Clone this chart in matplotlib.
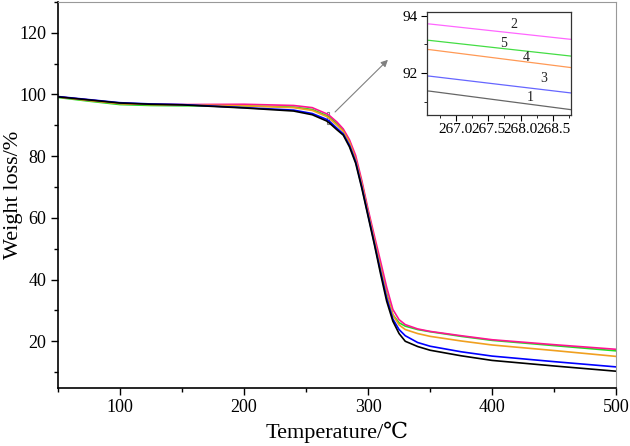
import matplotlib
matplotlib.use("Agg")
import matplotlib.pyplot as plt
from matplotlib.patches import Rectangle
from matplotlib.ticker import MultipleLocator

plt.rcParams['font.family'] = ['Liberation Serif', 'DejaVu Serif']

# temperature grid (℃)
temp = [50, 75, 100, 125, 150, 200, 240, 255, 266.6, 268.8, 275, 280, 285, 290,
        295, 300, 305, 310, 315, 320, 325, 330, 340, 350, 375, 400, 450, 500]

# weight (%) for samples 1..5
w1 = [99.2, 98.2, 97.2, 96.8, 96.6, 95.6, 94.6, 93.4, 91.38, 90.73, 88.5, 86.8, 83.0, 77.7,
      69.5, 60.5, 51.5, 42.0, 33.0, 26.5, 22.5, 20.0, 18.3, 17.1, 15.3, 13.8, 12.0, 10.3]
w2 = [99.2, 98.2, 97.1, 96.8, 96.7, 96.8, 96.4, 95.7, 93.71, 93.17, 91.0, 88.8, 85.3, 80.2,
      72.0, 62.8, 54.3, 46.0, 37.5, 30.3, 27.0, 25.4, 24.0, 23.2, 21.8, 20.5, 18.9, 17.4]
w3 = [99.3, 98.3, 97.3, 96.9, 96.7, 95.7, 94.9, 93.8, 91.90, 91.31, 89.0, 87.2, 83.5, 78.2,
      70.0, 61.0, 52.0, 42.8, 34.0, 27.2, 23.8, 21.8, 19.6, 18.4, 16.6, 15.2, 13.4, 11.7]
w4 = [99.2, 98.0, 97.0, 96.7, 96.6, 96.3, 95.7, 94.8, 92.82, 92.19, 90.0, 88.0, 84.5, 79.0,
      71.0, 61.8, 53.0, 44.0, 35.0, 28.5, 25.3, 23.8, 22.5, 21.6, 20.1, 18.8, 17.0, 15.1]
w5 = [99.0, 97.8, 96.7, 96.4, 96.3, 96.3, 95.9, 95.1, 93.14, 92.59, 90.5, 88.3, 84.8, 79.3,
      71.3, 62.0, 53.3, 44.5, 35.5, 28.6, 26.0, 24.9, 23.8, 23.1, 21.6, 20.3, 18.6, 16.9]

series = [w1, w2, w3, w4, w5]
labels = ["1", "2", "3", "4", "5"]
main_colors = ["#000000", "#ff1493", "#0000ff", "#f0a020", "#22dd22"]
inset_colors = ["#666666", "#ff66ff", "#6666ff", "#ff9955", "#44dd44"]
# label positions inside the inset (data coords)
label_x = [268.14, 267.90, 268.35, 268.09, 267.73]
label_y = [91.17, 93.68, 91.82, 92.56, 93.04]

fig = plt.figure(figsize=(6.3, 4.46), dpi=100)
ax = fig.add_axes([0.092, 0.131, 0.886, 0.865])

# draw in order so black/blue lie on top as in the figure
for i in [4, 1, 3, 2, 0]:
    ax.plot(temp, series[i], color=main_colors[i], lw=1.2)

ax.set_xlim(50, 500)
ax.set_ylim(5, 130)
ax.xaxis.set_major_locator(MultipleLocator(100))
ax.xaxis.set_minor_locator(MultipleLocator(50))
ax.yaxis.set_major_locator(MultipleLocator(20))
ax.yaxis.set_minor_locator(MultipleLocator(10))
ax.tick_params(which='both', direction='out', top=False, right=False, labelsize=13)
ax.tick_params(which='major', length=5, width=1)
ax.tick_params(which='minor', length=3, width=1)
for s in ['top', 'right']:
    ax.spines[s].set_color('#999999')
    ax.spines[s].set_linewidth(0.8)
for s in ['left', 'bottom']:
    ax.spines[s].set_linewidth(1.2)
ax.set_xlabel("Temperature/℃", fontsize=16)
ax.set_ylabel("Weight loss/%", fontsize=16, va='center')
ax.yaxis.set_label_coords(-0.08, 0.5)

# zoom marker and arrow
ix0, ix1 = 266.55, 268.78
iy0, iy1 = 90.55, 94.14
ax.add_patch(Rectangle((ix0, iy0), ix1 - ix0, iy1 - iy0, fill=False,
                       edgecolor='#808080', lw=0.8))
ax.annotate("", xy=(316, 111.2), xytext=(273.4, 94.3),
            arrowprops=dict(arrowstyle='-|>', color='#808080', lw=0.8,
                            mutation_scale=10, shrinkA=0, shrinkB=0))

# inset
axi = fig.add_axes([0.677, 0.742, 0.230, 0.232])
for i in range(5):
    axi.plot(temp, series[i], color=inset_colors[i], lw=0.9)
    axi.text(label_x[i], label_y[i], labels[i], fontsize=10,
             ha='center', va='center', color='#222222')
axi.set_xlim(ix0, ix1)
axi.set_ylim(iy0, iy1)
axi.xaxis.set_major_locator(MultipleLocator(0.5))
axi.xaxis.set_minor_locator(MultipleLocator(0.25))
axi.yaxis.set_major_locator(MultipleLocator(2))
axi.yaxis.set_minor_locator(MultipleLocator(1))
axi.xaxis.set_major_formatter(plt.FormatStrFormatter('%.1f'))
axi.yaxis.set_major_formatter(plt.FormatStrFormatter('%d'))
axi.tick_params(which='both', direction='out', top=False, right=False, labelsize=11, pad=2)
axi.tick_params(which='major', length=4)
axi.tick_params(which='minor', length=2.5)
for s in axi.spines.values():
    s.set_color('#333333')
    s.set_linewidth(0.9)

fig.savefig("out.png", dpi=100)
